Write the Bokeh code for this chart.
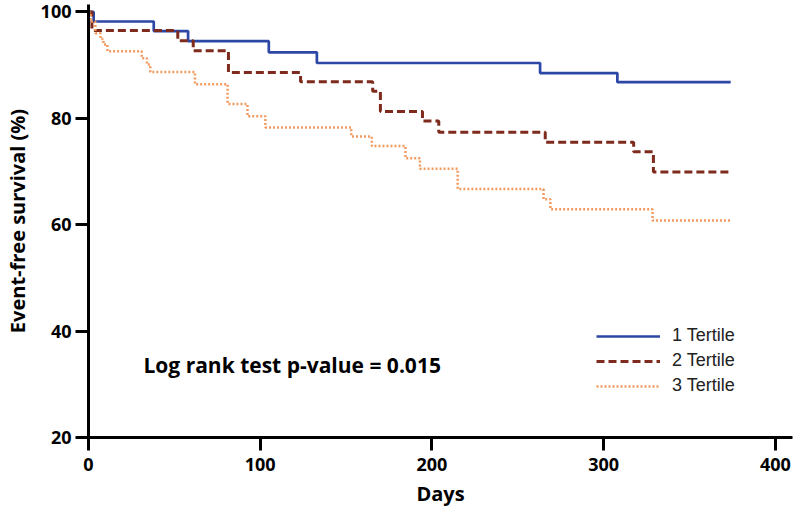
from bokeh.plotting import figure
from bokeh.models import Legend, LegendItem, Label, FixedTicker, Range1d
from bokeh.embed import file_html
from bokeh.resources import INLINE

# ---- data ----
t1_days = [0, 3, 38, 58, 105, 133, 263, 308, 374]
t1_surv = [100, 98.2, 96.4, 94.5, 92.4, 90.4, 88.5, 86.8, 86.8]

t2_days = [0, 2, 52, 61, 81.5, 123.5, 165.5, 170, 194.5, 204, 266, 317.5, 329, 374]
t2_surv = [100, 96.5, 94.6, 92.7, 88.6, 86.9, 85.1, 81.3, 79.5, 77.4, 75.5, 73.7, 69.9, 69.9]

t3_days = [0, 1.2, 4, 7, 8.7, 11, 31, 34, 36, 62, 81, 92.6, 103, 153, 165, 184.6, 193, 215, 265, 269, 328.5, 374]
t3_surv = [100, 98.2, 96.0, 94.9, 93.9, 92.6, 91.3, 90.1, 88.7, 86.4, 82.7, 80.4, 78.3, 76.6, 74.8, 72.5, 70.5, 66.7, 64.8, 62.9, 60.8, 60.8]

series_labels = ["1 Tertile", "2 Tertile", "3 Tertile"]
x_ticks = [0, 100, 200, 300, 400]
y_ticks = [20, 40, 60, 80, 100]
annotation = "Log rank test p-value = 0.015"

BLUE = "#2c47a6"
RED = "#7e2a1d"
ORANGE = "#f29a5f"

p = figure(width=800, height=516, output_backend="svg", toolbar_location=None,
           x_range=Range1d(0, 410), y_range=Range1d(20, 101.4),
           min_border_left=88, min_border_right=8, min_border_top=4, min_border_bottom=79)
p.outline_line_color = None
p.xgrid.visible = False
p.ygrid.visible = False
p.background_fill_color = "white"
p.border_fill_color = "white"

for ax in (p.xaxis[0], p.yaxis[0]):
    ax.axis_line_width = 3
    ax.axis_line_color = "black"
    ax.major_tick_line_width = 3
    ax.major_tick_line_color = "black"
    ax.major_tick_out = 13
    ax.major_tick_in = 0
    ax.minor_tick_line_color = None
    ax.major_label_text_font = "Open Sans"
    ax.major_label_text_font_style = "bold"
    ax.major_label_text_font_size = "18px"
    ax.major_label_text_color = "black"
    ax.axis_label_text_font = "Open Sans"
    ax.axis_label_text_font_style = "bold"
    ax.axis_label_text_font_size = "20px"
    ax.axis_label_text_color = "black"

p.xaxis.ticker = FixedTicker(ticks=x_ticks)
p.yaxis.ticker = FixedTicker(ticks=y_ticks)
p.xaxis.axis_label = "Days"
p.yaxis.axis_label = "Event-free survival (%)"
p.xaxis.major_label_standoff = 7
p.yaxis.major_label_standoff = 4
p.xaxis.axis_label_standoff = 6
p.yaxis.axis_label_standoff = 7

r1 = p.step(t1_days, t1_surv, mode="after", line_color=BLUE, line_width=2.7)
r2 = p.step(t2_days, t2_surv, mode="after", line_color=RED, line_width=3, line_dash="8 4")
r3 = p.step(t3_days, t3_surv, mode="after", line_color=ORANGE, line_width=2.5, line_dash="2 2")

legend = Legend(items=[LegendItem(label=series_labels[0], renderers=[r1]),
                       LegendItem(label=series_labels[1], renderers=[r2]),
                       LegendItem(label=series_labels[2], renderers=[r3])],
                location=(508, 41), padding=0, margin=0, spacing=4,
                glyph_width=64, glyph_height=20, label_height=20, label_standoff=12,
                border_line_color=None, background_fill_alpha=0,
                label_text_font="Liberation Sans", label_text_font_size="18px",
                label_text_color="#222222")
p.add_layout(legend, "center")

lab = Label(x=32, y=33.7, text=annotation, text_font="Open Sans", text_font_style="bold",
            text_font_size="21px", text_baseline="middle", text_color="black")
p.add_layout(lab)

open("out.html", "w").write(file_html(p, INLINE))
